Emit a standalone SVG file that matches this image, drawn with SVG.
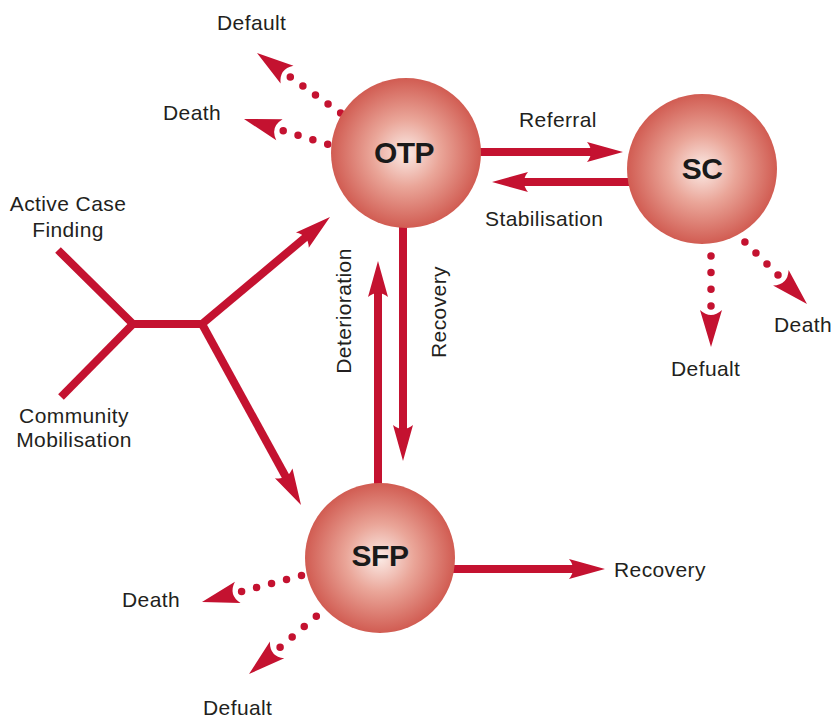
<svg xmlns="http://www.w3.org/2000/svg" xmlns:xlink="http://www.w3.org/1999/xlink" width="835" height="718" viewBox="0 0 835 718">
<style>
.lbl{font-family:"Liberation Sans",Arial,sans-serif;font-size:21px;fill:#231f20;letter-spacing:0.4px}
.node{font-family:"Liberation Sans",Arial,sans-serif;font-size:30px;font-weight:bold;fill:#1a1a1a;text-anchor:middle;letter-spacing:-0.5px}
.bar{stroke:#C41230;stroke-width:8;fill:none}
.dot{stroke:#C41230;stroke-width:7.5;stroke-linecap:round;fill:none}
.head{fill:#C41230}
</style>
<defs>
<radialGradient id="ball" cx="0.5" cy="0.5" r="0.5">
<stop offset="0" stop-color="#FBEBE6"/>
<stop offset="0.45" stop-color="#EAA699"/>
<stop offset="1" stop-color="#D15C52"/>
</radialGradient>
<path id="ah" d="M0,0 L-36,-10 Q-28,0 -36,10 Z"/>
<path id="dh" d="M0,0 L-37,-11 Q-27,0 -37,11 Z"/>
</defs>
<g id="connectors">
<!-- branch -->
<polyline class="bar" points="58,250 133,324 202,324" stroke-linejoin="miter"/>
<line class="bar" x1="61" y1="397" x2="133" y2="324"/>
<line class="bar" x1="202" y1="324" x2="307" y2="236"/>
<use xlink:href="#ah" class="head" transform="translate(330,217) rotate(-39.9)"/>
<line class="bar" x1="202" y1="324" x2="287" y2="479"/>
<use xlink:href="#ah" class="head" transform="translate(301,505) rotate(61.3)"/>
<!-- referral / stabilisation -->
<line class="bar" x1="470" y1="152" x2="596" y2="152"/>
<use xlink:href="#ah" class="head" transform="translate(623,152) rotate(0)"/>
<line class="bar" x1="640" y1="182" x2="520" y2="182"/>
<use xlink:href="#ah" class="head" transform="translate(492,182) rotate(180)"/>
<!-- recovery / deterioration -->
<line class="bar" x1="403" y1="215" x2="403" y2="434"/>
<use xlink:href="#ah" class="head" transform="translate(403,461) rotate(90)"/>
<line class="bar" x1="378" y1="495" x2="378" y2="288"/>
<use xlink:href="#ah" class="head" transform="translate(378,261) rotate(-90)"/>
<!-- SFP recovery -->
<line class="bar" x1="440" y1="569" x2="578" y2="569"/>
<use xlink:href="#ah" class="head" transform="translate(605,569) rotate(0)"/>
<!-- dotted outcomes -->
<line class="dot" x1="290.3" y1="76.9" x2="353" y2="122" stroke-dasharray="0 15.5"/>
<use xlink:href="#dh" class="head" transform="translate(257,53) rotate(215.75)"/>
<line class="dot" x1="283.2" y1="130.8" x2="342.6" y2="148.8" stroke-dasharray="0 15.5"/>
<use xlink:href="#dh" class="head" transform="translate(244,119) rotate(196.8)"/>
<line class="dot" x1="711" y1="306" x2="711" y2="239" stroke-dasharray="0 16.7"/>
<use xlink:href="#dh" class="head" transform="translate(711,347) rotate(90)"/>
<line class="dot" x1="778" y1="275" x2="733.9" y2="230.9" stroke-dasharray="0 15.6"/>
<use xlink:href="#dh" class="head" transform="translate(807,304) rotate(45)"/>
<line class="dot" x1="241.6" y1="591.5" x2="316.5" y2="571.5" stroke-dasharray="0 15.5"/>
<use xlink:href="#dh" class="head" transform="translate(202,602) rotate(165.1)"/>
<line class="dot" x1="280.1" y1="647.3" x2="328.4" y2="605.9" stroke-dasharray="0 15.9"/>
<use xlink:href="#dh" class="head" transform="translate(249,674) rotate(139.4)"/>
</g>
<g id="node-otp">
<circle cx="406" cy="153" r="75" fill="url(#ball)"/>
<text class="node" x="404" y="163">OTP</text>
</g>
<g id="node-sc">
<circle cx="702" cy="169" r="75" fill="url(#ball)"/>
<text class="node" x="702" y="179">SC</text>
</g>
<g id="node-sfp">
<circle cx="380" cy="558" r="75" fill="url(#ball)"/>
<text class="node" x="380" y="566">SFP</text>
</g>
<g id="labels">
<text class="lbl" x="217" y="30">Default</text>
<text class="lbl" x="163" y="120">Death</text>
<text class="lbl" x="519" y="127">Referral</text>
<text class="lbl" x="485" y="226">Stabilisation</text>
<text class="lbl" x="68" y="211" text-anchor="middle">Active Case</text>
<text class="lbl" x="68" y="237" text-anchor="middle">Finding</text>
<text class="lbl" x="74" y="423" text-anchor="middle">Community</text>
<text class="lbl" x="74" y="447" text-anchor="middle">Mobilisation</text>
<text class="lbl" text-anchor="middle" transform="translate(351,311) rotate(-90)">Deterioration</text>
<text class="lbl" text-anchor="middle" transform="translate(446,312) rotate(-90)">Recovery</text>
<text class="lbl" x="671" y="376">Defualt</text>
<text class="lbl" x="774" y="332">Death</text>
<text class="lbl" x="614" y="577">Recovery</text>
<text class="lbl" x="122" y="607">Death</text>
<text class="lbl" x="203" y="715">Defualt</text>
</g>
</svg>
